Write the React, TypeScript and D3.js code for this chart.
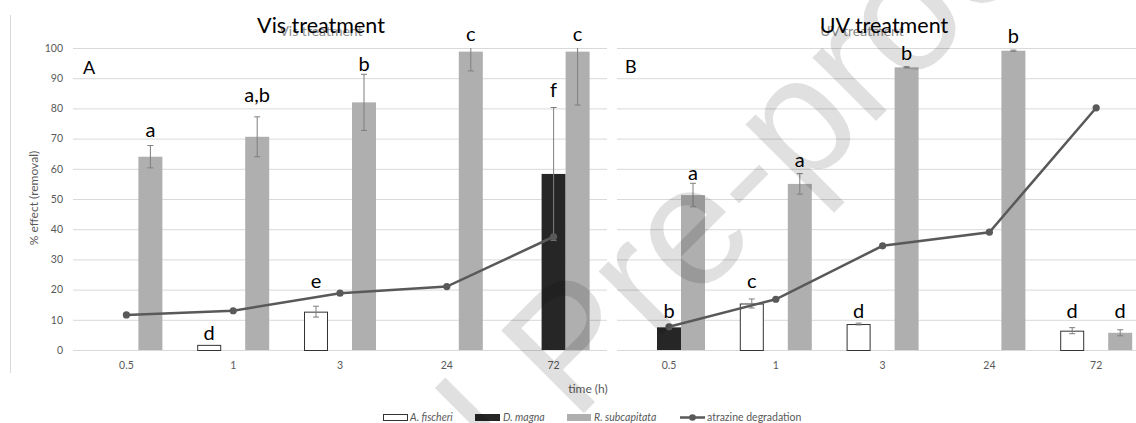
import React from "react";
import * as d3 from "d3";

// ---------- data ----------
const times = ["0.5", "1", "3", "24", "72"];
const seriesKeys = ["fischeri", "magna", "subcapitata"];
const seriesNames = ["A. fischeri", "D. magna", "R. subcapitata"];
const yTicks = [0, 10, 20, 30, 40, 50, 60, 70, 80, 90, 100];

// Vis treatment
const visFischeri = [0, 1.7, 12.7, null, null];
const visFischeriErr = [0, 0, 1.8, null, null];
const visMagna = [null, null, null, null, 58.3];
const visMagnaErr = [null, null, null, null, 22];
const visSubcap = [64.0, 70.6, 82.0, 98.8, 98.8];
const visSubcapErr = [3.7, 6.6, 9.3, 6.4, 17.7];
const visAtrazine = [11.6, 13.0, 18.8, 21.0, 37.5];
const visFischeriLabels = [null, "d", "e", null, null];
const visFischeriLabelAt = [null, 3.3, 20.5, null, null];
const visMagnaLabels = [null, null, null, null, "f"];
const visMagnaLabelAt = [null, null, null, null, 83.9];
const visSubcapLabels = ["a", "a,b", "b", "c", "c"];
const visSubcapLabelAt = [70.5, 82.1, 92.4, 102.4, 102.4];

// UV treatment
const uvFischeri = [null, 15.4, 8.6, null, 6.4];
const uvFischeriErr = [null, 1.5, 0.3, null, 1.0];
const uvMagna = [7.5, null, null, null, null];
const uvMagnaErr = [0, null, null, null, null];
const uvSubcap = [51.3, 55.0, 93.6, 99.1, 5.7];
const uvSubcapErr = [3.9, 3.4, 0.2, 0.2, 1.0];
const uvAtrazine = [7.7, 16.8, 34.5, 39.0, 80.2];
const uvFischeriLabels = [null, "c", "d", null, "d"];
const uvFischeriLabelAt = [null, 20.4, 10.5, null, 10.5];
const uvMagnaLabels = ["b", null, null, null, null];
const uvMagnaLabelAt = [10.5, null, null, null, null];
const uvSubcapLabels = ["a", "a", "b", "b", "d"];
const uvSubcapLabelAt = [56.3, 60.7, 96.0, 101.8, 10.5];

// ---------- styles ----------
const W = 1136;
const H = 423;
const FONT = "Lato, 'Open Sans', sans-serif";
const GRID = "#d9d9d9";
const AXIS_TEXT = "#595959";
const FILL = { fischeri: "#ffffff", magna: "#262626", subcapitata: "#afafaf" };
const STROKE = { fischeri: "#333333", magna: "none", subcapitata: "none" };
const LINE = "#595959";
const ERR = "#7f7f7f";

const y = d3.scaleLinear().domain([0, 100]).range([350, 48]);

type PanelProps = {
  range: [number, number];
  gridX: [number, number];
  values: Record<string, (number | null)[]>;
  errs: Record<string, (number | null)[]>;
  labels: Record<string, (string | null)[]>;
  labelAt: Record<string, (number | null)[]>;
  atrazine: number[];
  showYAxis: boolean;
};

function Panel(p: PanelProps) {
  const x = d3.scaleBand<string>().domain(times).range(p.range).paddingInner(0).paddingOuter(0);
  const xs = d3
    .scaleBand<string>()
    .domain(seriesKeys)
    .range([0, x.bandwidth()])
    .paddingInner(0)
    .paddingOuter(0.725);
  const cx = (t: string) => (x(t) as number) + x.bandwidth() / 2;
  const lineGen = d3
    .line<number>()
    .x((_, i) => cx(times[i]))
    .y((d) => y(d));

  return (
    <g>
      {yTicks.map((t) => (
        <line key={"g" + t} x1={p.gridX[0]} x2={p.gridX[1]} y1={y(t) + 0.5} y2={y(t) + 0.5} stroke={GRID} strokeWidth={1} />
      ))}
      {p.showYAxis &&
        yTicks.map((t) => (
          <text key={"yt" + t} x={63} y={y(t) + 3.8} textAnchor="end" fontFamily={FONT} fontSize={10.5} fill={AXIS_TEXT}>
            {t}
          </text>
        ))}
      {times.map((t) => (
        <text key={"xt" + t} x={cx(t)} y={369} textAnchor="middle" fontFamily={FONT} fontSize={10.5} fill={AXIS_TEXT}>
          {t}
        </text>
      ))}
      {/* bars */}
      {seriesKeys.map((s) =>
        times.map((t, i) => {
          const v = p.values[s][i];
          if (v === null || v === undefined) return null;
          const bx = (x(t) as number) + (xs(s) as number);
          const bw = xs.bandwidth();
          const zero = v === 0;
          return (
            <rect
              key={s + t}
              x={bx + (s === "fischeri" ? 0.5 : 0)}
              y={y(v) + (s === "fischeri" ? 0.5 : 0)}
              width={bw - (s === "fischeri" ? 1 : 0)}
              height={Math.max(0, y(0) - y(v))}
              fill={(FILL as any)[s]}
              stroke={zero ? "#a6a6a6" : (STROKE as any)[s]}
              strokeWidth={1}
            />
          );
        })
      )}
      {/* error bars */}
      {seriesKeys.map((s) =>
        times.map((t, i) => {
          const v = p.values[s][i];
          const e = p.errs[s][i];
          if (v === null || e === null || e === undefined || e === 0) return null;
          const bcx = (x(t) as number) + (xs(s) as number) + xs.bandwidth() / 2;
          const top = Math.min(100, v + e);
          const bot = v - e;
          const capTop = v + e <= 100;
          return (
            <g key={"e" + s + t} stroke={ERR} strokeWidth={1}>
              <line x1={bcx} x2={bcx} y1={y(top)} y2={y(bot)} />
              {capTop && <line x1={bcx - 3} x2={bcx + 3} y1={y(top)} y2={y(top)} />}
              <line x1={bcx - 3} x2={bcx + 3} y1={y(bot)} y2={y(bot)} />
            </g>
          );
        })
      )}
      {/* atrazine line */}
      <path d={lineGen(p.atrazine) as string} fill="none" stroke={LINE} strokeWidth={2.5} />
      {p.atrazine.map((v, i) => (
        <circle key={"m" + i} cx={cx(times[i])} cy={y(v)} r={3.6} fill={LINE} />
      ))}
      {/* letters */}
      {seriesKeys.map((s) =>
        times.map((t, i) => {
          const lab = p.labels[s][i];
          const at = p.labelAt[s][i];
          if (!lab || at === null) return null;
          const bcx = (x(t) as number) + (xs(s) as number) + xs.bandwidth() / 2;
          return (
            <text key={"l" + s + t} x={bcx} y={y(at)} textAnchor="middle" fontFamily={FONT} fontSize={20} fill="#000">
              {lab}
            </text>
          );
        })
      )}
    </g>
  );
}

export default function App() {
  return (
    <svg width={W} height={H} style={{ position: "absolute", left: 0, top: 0, background: "#fff" }}>
      <rect x={0} y={0} width={W} height={H} fill="#fff" />
      <line x1={10.5} x2={10.5} y1={15} y2={373} stroke={GRID} strokeWidth={1} />

      <Panel
        range={[73, 607]}
        gridX={[73, 607]}
        values={{ fischeri: visFischeri, magna: visMagna, subcapitata: visSubcap }}
        errs={{ fischeri: visFischeriErr, magna: visMagnaErr, subcapitata: visSubcapErr }}
        labels={{ fischeri: visFischeriLabels, magna: visMagnaLabels, subcapitata: visSubcapLabels }}
        labelAt={{ fischeri: visFischeriLabelAt, magna: visMagnaLabelAt, subcapitata: visSubcapLabelAt }}
        atrazine={visAtrazine}
        showYAxis={true}
      />
      <Panel
        range={[615.6, 1149.6]}
        gridX={[617, 1136]}
        values={{ fischeri: uvFischeri, magna: uvMagna, subcapitata: uvSubcap }}
        errs={{ fischeri: uvFischeriErr, magna: uvMagnaErr, subcapitata: uvSubcapErr }}
        labels={{ fischeri: uvFischeriLabels, magna: uvMagnaLabels, subcapitata: uvSubcapLabels }}
        labelAt={{ fischeri: uvFischeriLabelAt, magna: uvMagnaLabelAt, subcapitata: uvSubcapLabelAt }}
        atrazine={uvAtrazine}
        showYAxis={false}
      />

      {/* axis titles */}
      <text transform="translate(38,198) rotate(-90)" textAnchor="middle" fontFamily={FONT} fontSize={12} fill={AXIS_TEXT}>
        % effect (removal)
      </text>
      <text x={588} y={393} textAnchor="middle" fontFamily={FONT} fontSize={12} fill={AXIS_TEXT}>
        time (h)
      </text>

      {/* panel titles */}
      <text x={321} y={36} textAnchor="middle" fontFamily={FONT} fontSize={14} fill="#8c8c8c">Vis treatment</text>
      <text x={321} y={33} textAnchor="middle" fontFamily={FONT} fontSize={21.5} fill="#000">Vis treatment</text>
      <text x={862} y={36} textAnchor="middle" fontFamily={FONT} fontSize={14} fill="#8c8c8c">UV treatment</text>
      <text x={884} y={33} textAnchor="middle" fontFamily={FONT} fontSize={21.5} fill="#000">UV treatment</text>
      <text x={83} y={74} fontFamily={FONT} fontSize={18} fill="#000">A</text>
      <text x={625} y={73} fontFamily={FONT} fontSize={18} fill="#000">B</text>

      {/* legend */}
      <g fontFamily={FONT} fontSize={10.5} fill={AXIS_TEXT}>
        <rect x={383.5} y={414.5} width={24} height={6} fill="#fff" stroke="#333" strokeWidth={1} />
        <text x={410} y={420.5} fontStyle="italic">{seriesNames[0]}</text>
        <rect x={475} y={414} width={25} height={7} fill={FILL.magna} />
        <text x={503} y={420.5} fontStyle="italic">{seriesNames[1]}</text>
        <rect x={567} y={414} width={24} height={7} fill={FILL.subcapitata} />
        <text x={594} y={420.5} fontStyle="italic">{seriesNames[2]}</text>
        <line x1={680} x2={705} y1={417.5} y2={417.5} stroke={LINE} strokeWidth={2.5} />
        <circle cx={692.5} cy={417.5} r={3.3} fill={LINE} />
        <text x={707} y={420.5}>atrazine degradation</text>
      </g>

      {/* watermark */}
      <text
        transform="translate(1075,-78) rotate(-45)"
        textAnchor="end"
        fontFamily="'Liberation Sans', Arial, sans-serif"
        fontSize={170}
        fill="#000"
        fillOpacity={0.12}
      >
        Journal Pre-proof
      </text>
    </svg>
  );
}
